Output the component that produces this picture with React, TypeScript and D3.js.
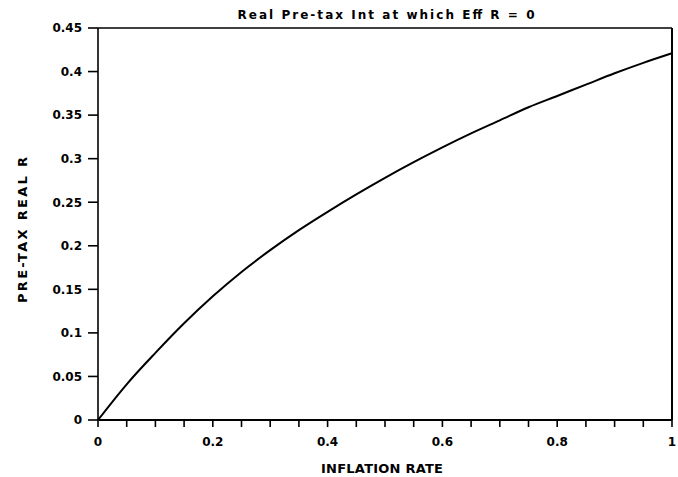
import React from "react";
import * as d3 from "d3";

const inflation = [0, 0.05, 0.1, 0.15, 0.2, 0.25, 0.3, 0.35, 0.4, 0.45, 0.5, 0.55, 0.6, 0.65, 0.7, 0.75, 0.8, 0.85, 0.9, 0.95, 1];
const preTaxR = [0, 0.041, 0.077, 0.111, 0.142, 0.17, 0.195, 0.218, 0.239, 0.259, 0.278, 0.296, 0.313, 0.329, 0.344, 0.359, 0.372, 0.385, 0.398, 0.41, 0.421];
const xTickLabels = [0, 0.2, 0.4, 0.6, 0.8, 1];
const xMinorTicks = d3.range(0, 1.0001, 0.05);
const yTickLabels = [0, 0.05, 0.1, 0.15, 0.2, 0.25, 0.3, 0.35, 0.4, 0.45];
const title = "Real Pre-tax Int at which Eff R = 0";
const xTitle = "INFLATION RATE";
const yTitle = "PRE-TAX REAL R";

const W = 678, H = 477;
const left = 98, right = 672, top = 28, bottom = 420;

export default function App() {
  const x = d3.scaleLinear().domain([0, 1]).range([left, right]);
  const y = d3.scaleLinear().domain([0, 0.45]).range([bottom, top]);
  const line = d3.line<number>().x((_, i) => x(inflation[i])).y((d) => y(d)).curve(d3.curveMonotoneX);
  const font = "'DejaVu Sans', Verdana, sans-serif";
  const fmt = (v: number) => (v === 0 ? "0" : String(+v.toFixed(2)));
  return (
    <svg width={W} height={H} style={{ position: "absolute", left: 0, top: 0, background: "#fff" }} fontFamily={font} fontWeight="bold">
      <text x={386} y={19} textAnchor="middle" fontSize={12} textLength={297} lengthAdjust="spacing">{title}</text>
      {/* frame */}
      <line x1={left} x2={right} y1={top} y2={top} stroke="#000" strokeWidth={1.6} />
      <line x1={right} x2={right} y1={top} y2={bottom} stroke="#000" strokeWidth={2} />
      <line x1={left} x2={left} y1={top} y2={bottom} stroke="#000" strokeWidth={1.6} />
      <line x1={left} x2={right} y1={bottom} y2={bottom} stroke="#000" strokeWidth={2} />
      {/* y ticks */}
      {yTickLabels.map((v) => (
        <g key={"y" + v}>
          <line x1={left - 10} x2={left} y1={y(v)} y2={y(v)} stroke="#000" strokeWidth={1.6} />
          <text x={82} y={y(v)} dy="0.36em" textAnchor="end" fontSize={12}>{fmt(v)}</text>
        </g>
      ))}
      {/* x ticks */}
      {xMinorTicks.map((v) => (
        <line key={"xm" + v} x1={x(v)} x2={x(v)} y1={bottom} y2={bottom + 7} stroke="#000" strokeWidth={1.6} />
      ))}
      {xTickLabels.map((v) => (
        <text key={"x" + v} x={x(v)} y={446} textAnchor="middle" fontSize={12}>{fmt(v)}</text>
      ))}
      <text x={382} y={473} textAnchor="middle" fontSize={13} textLength={122} lengthAdjust="spacing">{xTitle}</text>
      <text transform={`translate(27, 230) rotate(-90)`} textAnchor="middle" fontSize={13} textLength={146} lengthAdjust="spacing">{yTitle}</text>
      <path d={line(preTaxR) || ""} fill="none" stroke="#000" strokeWidth={2} />
    </svg>
  );
}
